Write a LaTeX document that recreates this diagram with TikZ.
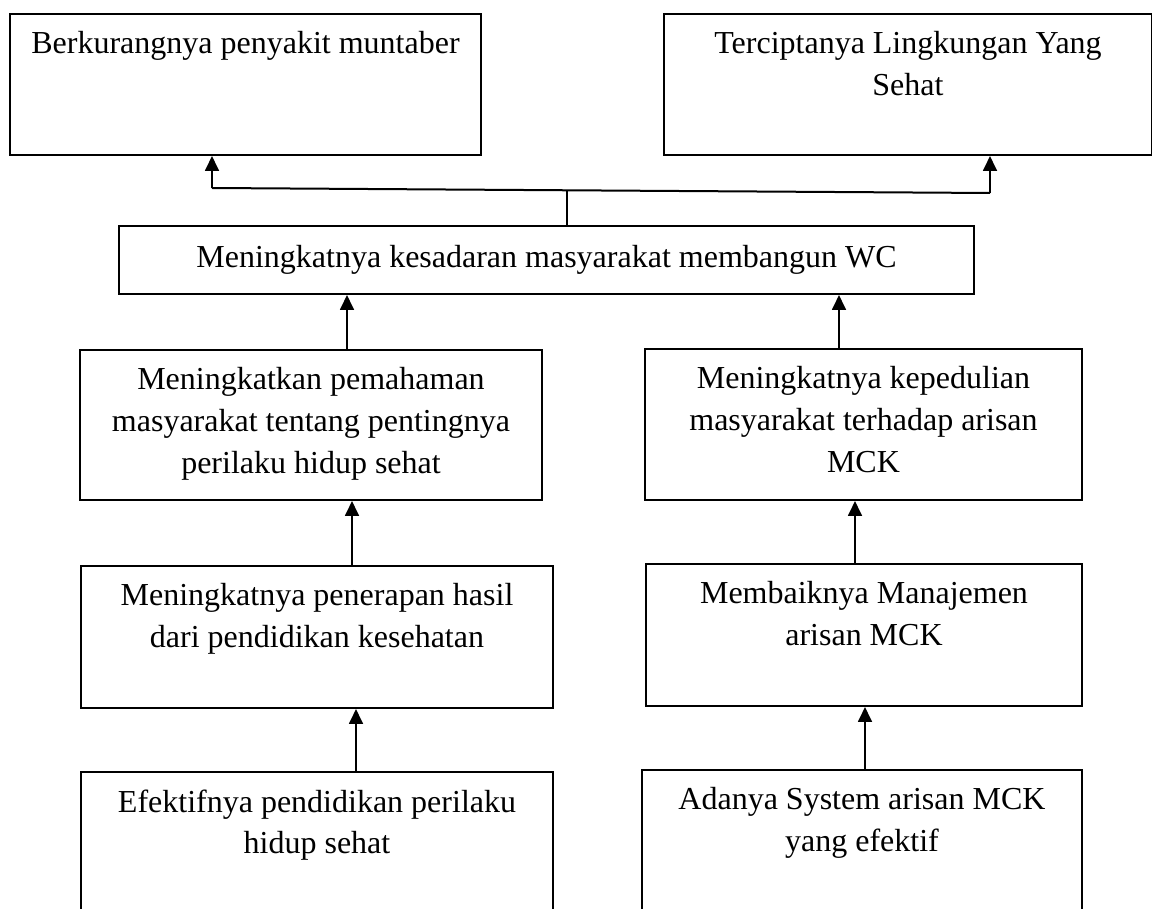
\documentclass[tikz,border=0pt]{standalone}
\usepackage{fontspec}
\setmainfont{Liberation Serif}
\usepackage{tikz}
\usetikzlibrary{positioning}
\usetikzlibrary{arrows.meta}

\newcommand{\satuan}{0.375pt}

\begin{document}
\begin{tikzpicture}[x=\satuan, y=-\satuan,
                line width=0.75pt,
                kotak/.style n args={2}{draw,rectangle,
                    minimum width=#1*\satuan,
                    minimum height=#2*\satuan,
                    anchor=north west,
                    inner sep=0pt},
                teks/.style={anchor=north, align=center, inner sep=0pt,
                    font=\fontsize{12}{15.6}\selectfont},
                panah/.style={-{Triangle[length=5.6pt,width=5.2pt]}}]
                \useasboundingbox (0,0) rectangle (1152,909);
                \clip (0,0) rectangle (1152,909);
                \node[kotak={471}{141}] (muntaber) at (9,13) {};
                \node[kotak={488}{141}] (lingkungan) at (663,13) {};
                \node[kotak={855}{68}, font=\fontsize{12}{15.6}\selectfont] (kesadaran) at (118,225)
                    {Meningkatnya kesadaran masyarakat membangun WC};
                \node[kotak={462}{150}] (pemahaman) at (79,349) {};
                \node[kotak={437}{151}] (kepedulian) at (644,348) {};
                \node[kotak={472}{142}] (penerapan) at (80,565) {};
                \node[kotak={436}{142}] (manajemen) at (645,563) {};
                \node[kotak={472}{200}] (efektif) at (80,771) {};
                \node[kotak={440}{200}] (sistem) at (641,769) {};
                \node[teks, below=6.6pt of muntaber.north] (muntaber-t)
                    {Berkurangnya penyakit muntaber};
                \node[teks, below=6.6pt of lingkungan.north] (lingkungan-t)
                    {Terciptanya Lingkungan Yang\\Sehat};
                \node[teks, below=6.6pt of pemahaman.north] (pemahaman-t)
                    {Meningkatkan pemahaman\\masyarakat tentang pentingnya\\perilaku hidup sehat};
                \node[teks, below=6.6pt of kepedulian.north] (kepedulian-t)
                    {Meningkatnya kepedulian\\masyarakat terhadap arisan\\MCK};
                \node[teks, below=6.6pt of penerapan.north] (penerapan-t)
                    {Meningkatnya penerapan hasil\\dari pendidikan kesehatan};
                \node[teks, below=6.6pt of manajemen.north] (manajemen-t)
                    {Membaiknya Manajemen\\arisan MCK};
                \node[teks, below=6.6pt of efektif.north] (efektif-t)
                    {Efektifnya pendidikan perilaku\\hidup sehat};
                \node[teks, below=6.6pt of sistem.north] (sistem-t)
                    {Adanya System arisan MCK\\yang efektif};
                \coordinate (cabang) at (567,190);
                \coordinate (kiri) at (212,188);
                \coordinate (kanan) at (990,193);
                \draw (kesadaran.north -| cabang) -- (cabang);
                \draw (kiri) -- (kanan);
                \draw[panah] (kiri) -- (kiri |- muntaber.south);
                \draw[panah] (kanan) -- (kanan |- lingkungan.south);
                \foreach \dari/\ke/\x in {pemahaman/kesadaran/347, penerapan/pemahaman/352,
                    efektif/penerapan/356, kepedulian/kesadaran/839,
                    manajemen/kepedulian/855, sistem/manajemen/865}
                    \draw[panah] (\x,0 |- \dari.north) -- (\x,0 |- \ke.south);
            \end{tikzpicture}
\end{document}
